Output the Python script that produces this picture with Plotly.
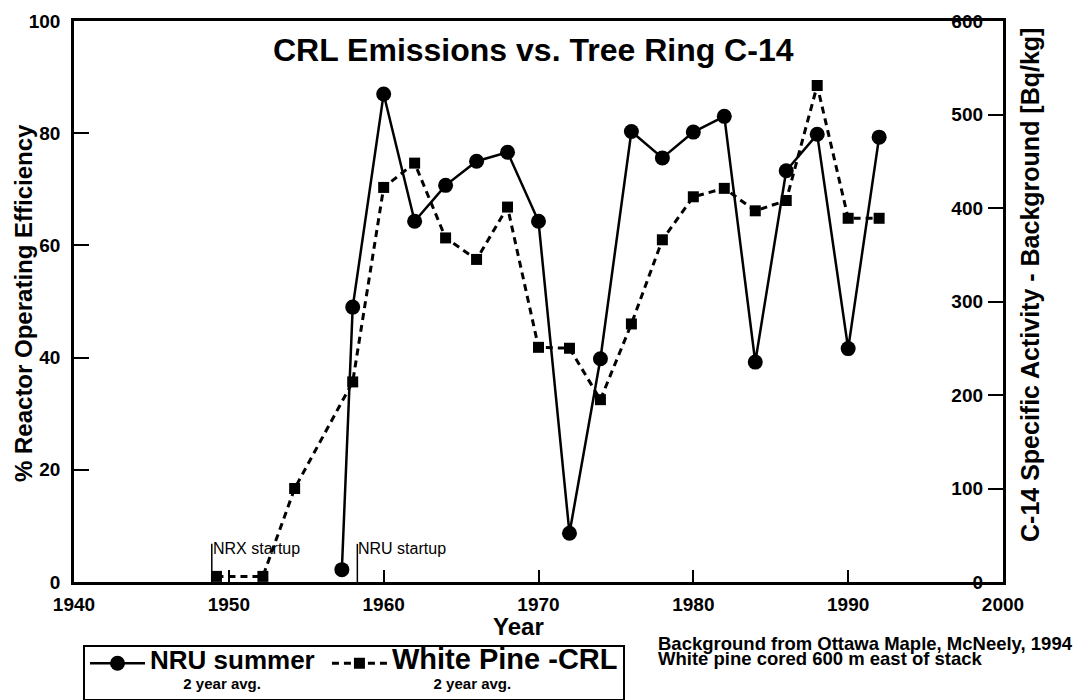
import plotly.graph_objects as go

# ---------------- data ----------------
nru_years = [1957.3, 1958, 1960, 1962, 1964, 1966, 1968, 1970, 1972, 1974,
             1976, 1978, 1980, 1982, 1984, 1986, 1988, 1990, 1992]
nru_eff = [2.2, 49, 87, 64.3, 70.7, 75, 76.6, 64.3, 8.7, 39.8,
           80.3, 75.6, 80.2, 83, 39.2, 73.3, 79.8, 41.6, 79.3]

pine_years = [1949.2, 1952.2, 1954.25, 1958, 1960, 1962, 1964, 1966, 1968, 1970,
              1972, 1974, 1976, 1978, 1980, 1982, 1984, 1986, 1988, 1990, 1992]
pine_c14 = [6, 6, 100, 214, 422, 448, 368, 345, 401, 251,
            250, 195, 276, 366, 412, 421, 397, 408, 531, 389, 389]

x_ticks = [1940, 1950, 1960, 1970, 1980, 1990, 2000]
left_ticks = [0, 20, 40, 60, 80, 100]
right_ticks = [0, 100, 200, 300, 400, 500, 600]

event_labels = ["NRX startup", "NRU startup"]
event_years = [1948.9, 1958.3]
event_height = 6.8  # % units on the left axis

title_text = "CRL Emissions vs. Tree Ring C-14"
left_title = "% Reactor Operating Efficiency"
right_title = "C-14 Specific Activity - Background [Bq/kg]"
x_title = "Year"
note_lines = ["Background from Ottawa Maple, McNeely, 1994",
              "White pine cored 600 m east of stack"]

# ---------------- layout helpers ----------------
# The page body adds an 8px margin, so the figure is drawn 8px smaller
# and every reference-pixel position is shifted by that offset.
OFF = 8
W, H = 1081 - OFF, 700 - OFF
L0, R0, T0, B0 = 74, 1003, 21, 582   # plot area in reference pixels
FONT = "Liberation Sans, Arial, Helvetica, sans-serif"


def px(x):
    return (x - L0) / (R0 - L0)


def py(y):
    return (B0 - y) / (B0 - T0)


bold = dict(family=FONT, color="black", weight="bold")

fig = go.Figure()

nbsp = "\u00a0"
fig.add_trace(go.Scatter(
    x=nru_years, y=nru_eff, mode="lines+markers",
    name="<span style='font-size:26px'>NRU summer" + nbsp + "</span><br>" + nbsp * 8 + "2 year avg.",
    line=dict(color="black", width=2.5),
    marker=dict(symbol="circle", size=15, color="black"),
    yaxis="y",
))
fig.add_trace(go.Scatter(
    x=pine_years, y=pine_c14, mode="lines+markers",
    name="<span style='font-size:29px'>White Pine -CRL</span><br>" + nbsp * 10 + "2 year avg.",
    line=dict(color="black", width=3, dash="7px,5px"),
    marker=dict(symbol="square", size=11, color="black"),
    yaxis="y2",
))

axis_common = dict(
    showline=True, linecolor="black", linewidth=2.5,
    showgrid=False, zeroline=False, automargin=False,
    ticks="inside", tickcolor="black", tickwidth=2,
    tickfont=dict(size=19, **bold),
)

fig.update_layout(
    template="none",
    width=W, height=H,
    margin=dict(l=L0 - OFF, r=W - (R0 - OFF), t=T0 - OFF, b=H - (B0 - OFF), autoexpand=False),
    paper_bgcolor="white", plot_bgcolor="white",
    showlegend=True,
    xaxis=dict(range=[1940, 2000], tickvals=x_ticks, ticklen=12,
               mirror=True, ticklabelstandoff=3, **axis_common),
    yaxis=dict(range=[0, 100], tickvals=left_ticks, ticklen=15,
               ticklabelstandoff=7, **axis_common),
    yaxis2=dict(range=[0, 600], tickvals=right_ticks, ticklen=15,
                overlaying="y", side="right", ticklabelposition="inside",
                ticklabeloverflow="allow",
                ticklabelstandoff=6, **axis_common),
    legend=dict(
        orientation="h", x=px(83), y=py(645), xanchor="left", yanchor="top",
        bordercolor="black", borderwidth=2, bgcolor="white",
        font=dict(size=15, **bold), valign="top", itemwidth=55,
    ),
)

annotations = [
    dict(text=title_text, x=px(533), y=py(50), font=dict(size=32, **bold)),
    dict(text=left_title, x=px(23), y=py(303), textangle=-90, font=dict(size=24, **bold)),
    dict(text=right_title, x=px(1030), y=py(285), textangle=-90, font=dict(size=25, **bold)),
    dict(text=x_title, x=px(518), y=py(626), font=dict(size=24, **bold)),
    dict(text=note_lines[0], x=px(656), y=py(643), xanchor="left", font=dict(size=18.5, **bold)),
    dict(text=note_lines[1], x=px(656), y=py(658), xanchor="left", font=dict(size=18.5, **bold)),
]
for a in annotations:
    a.setdefault("xanchor", "center")
    a.update(xref="paper", yref="paper", yanchor="middle", showarrow=False)
    fig.add_annotation(**a)

for lab, yr in zip(event_labels, event_years):
    fig.add_shape(type="line", xref="x", yref="y", x0=yr, x1=yr, y0=0, y1=event_height,
                  line=dict(color="black", width=1.5))
    fig.add_annotation(text=lab, x=yr, y=event_height - 0.8, xref="x", yref="y",
                       xanchor="left", yanchor="middle", showarrow=False, xshift=-1,
                       font=dict(family=FONT, size=16, color="black"))

fig.write_html("out.html")
